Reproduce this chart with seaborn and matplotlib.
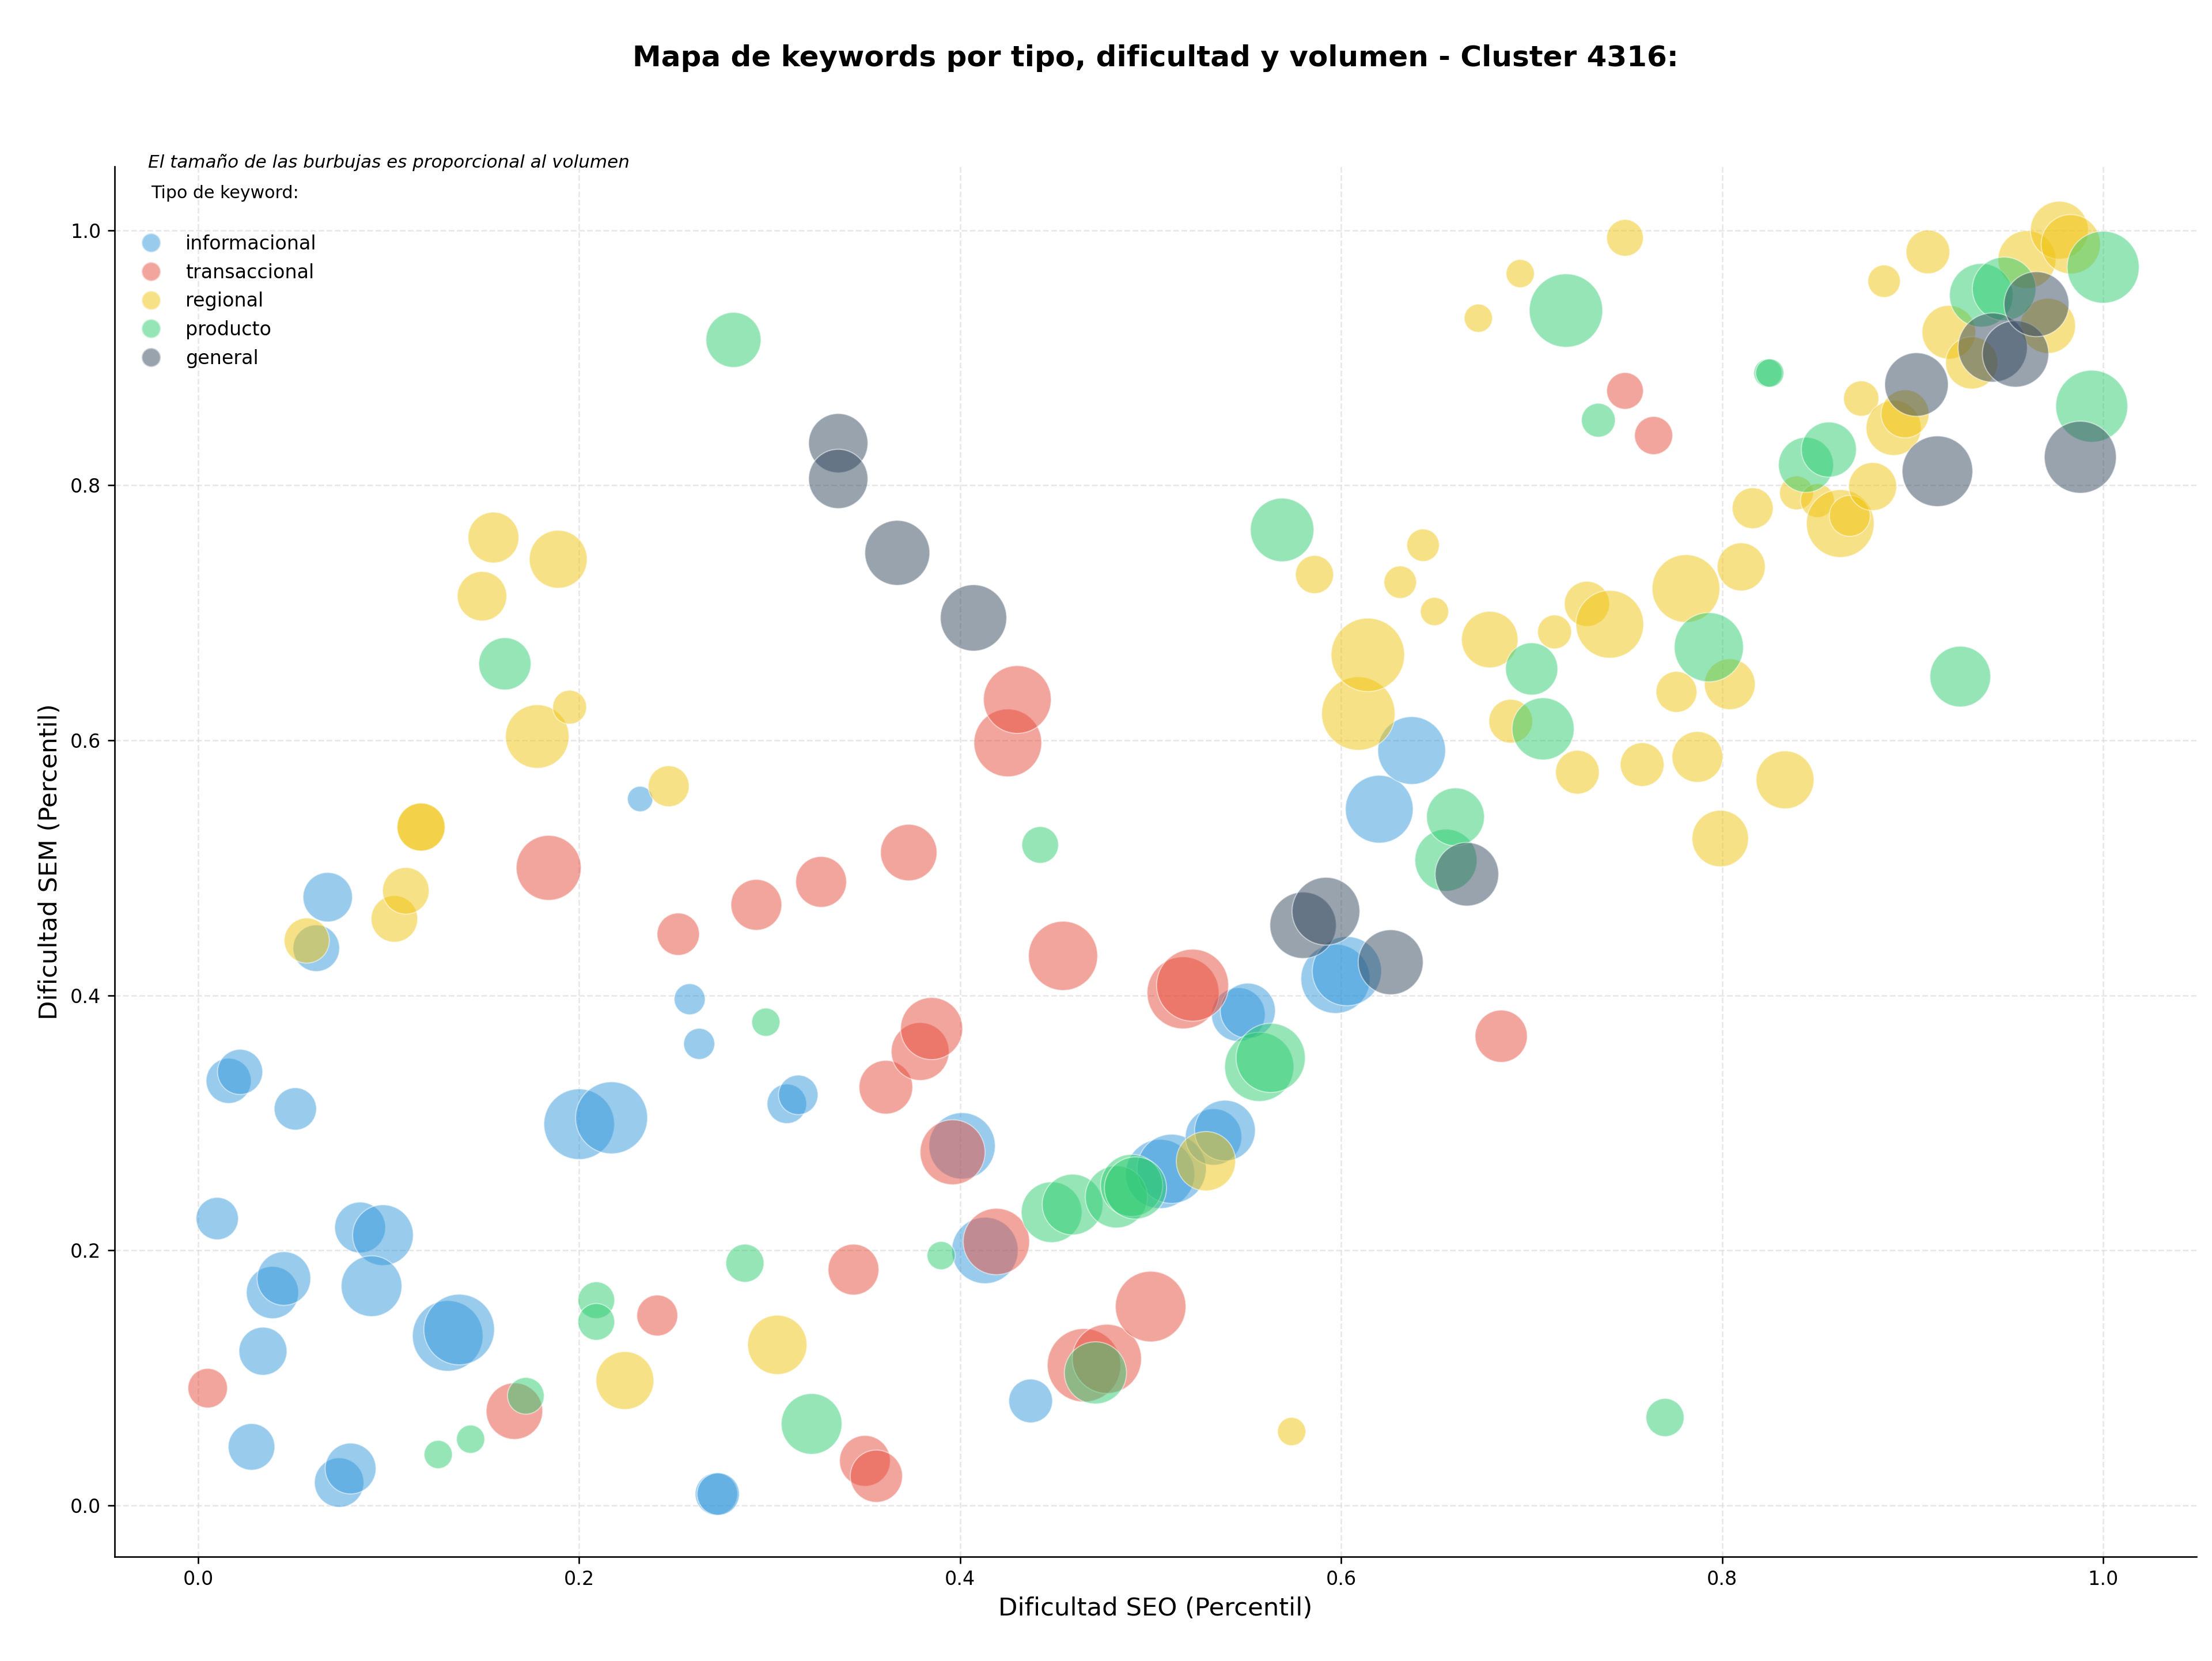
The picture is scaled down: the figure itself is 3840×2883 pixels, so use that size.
import pandas as pd
import matplotlib
matplotlib.use("Agg")
import matplotlib.pyplot as plt
from matplotlib.lines import Line2D
import seaborn as sns

tipos = ["informacional", "transaccional", "regional", "producto", "general"]
colores = {
    "informacional": "#3498db",
    "transaccional": "#e74c3c",
    "regional": "#f1c40f",
    "producto": "#2ecc71",
    "general": "#34495e",
}

# informacional
info_seo = [0.010, 0.016, 0.022, 0.028, 0.034, 0.039, 0.045, 0.051, 0.062, 0.068,
            0.074, 0.080, 0.085, 0.097, 0.091, 0.131, 0.137, 0.200, 0.217, 0.232,
            0.258, 0.263, 0.272, 0.273, 0.309, 0.315, 0.401, 0.413, 0.437, 0.505,
            0.511, 0.533, 0.539, 0.546, 0.551, 0.597, 0.603, 0.620, 0.637]
info_sem = [0.225, 0.333, 0.340, 0.046, 0.121, 0.167, 0.178, 0.311, 0.437, 0.477,
            0.018, 0.029, 0.218, 0.212, 0.172, 0.133, 0.138, 0.299, 0.304, 0.554,
            0.397, 0.362, 0.009, 0.009, 0.315, 0.322, 0.282, 0.200, 0.082, 0.260,
            0.264, 0.289, 0.294, 0.385, 0.388, 0.413, 0.419, 0.546, 0.592]
info_vol = [9000, 10240, 10240, 10890, 11560, 13690, 14440, 9000, 10890, 12250,
            12250, 12960, 12960, 18490, 18490, 25000, 25000, 25000, 26010, 3240,
            4840, 4840, 9000, 9000, 7840, 7840, 22090, 22090, 9610, 24010,
            24010, 16000, 18490, 14440, 15210, 24010, 24010, 23040, 23040]

# transaccional
trans_seo = [0.005, 0.166, 0.184, 0.241, 0.252, 0.293, 0.327, 0.344, 0.350, 0.356,
             0.361, 0.373, 0.379, 0.385, 0.396, 0.419, 0.425, 0.430, 0.454, 0.465,
             0.477, 0.500, 0.517, 0.522, 0.684, 0.749, 0.764]
trans_sem = [0.092, 0.074, 0.500, 0.149, 0.448, 0.471, 0.489, 0.185, 0.035, 0.023,
             0.328, 0.512, 0.356, 0.374, 0.277, 0.207, 0.598, 0.632, 0.431, 0.110,
             0.115, 0.156, 0.402, 0.408, 0.368, 0.874, 0.839]
trans_vol = [7840, 16000, 21160, 8410, 9000, 12960, 12960, 12960, 12960, 13690,
             14440, 16000, 16810, 19360, 21160, 22090, 23040, 23040, 24010, 27040,
             24010, 25000, 26010, 26010, 13690, 6760, 7290]

# regional
reg_seo = [0.057, 0.103, 0.109, 0.117, 0.117, 0.149, 0.155, 0.178, 0.189, 0.195,
           0.224, 0.247, 0.304, 0.529, 0.574, 0.586, 0.609, 0.614, 0.631, 0.643,
           0.649, 0.672, 0.678, 0.689, 0.694, 0.712, 0.724, 0.729, 0.741, 0.749,
           0.758, 0.776, 0.781, 0.787, 0.799, 0.804, 0.810, 0.816, 0.833, 0.839,
           0.850, 0.862, 0.867, 0.873, 0.879, 0.885, 0.890, 0.896, 0.908, 0.919,
           0.931, 0.960, 0.971, 0.977, 0.983]
reg_sem = [0.443, 0.460, 0.482, 0.532, 0.532, 0.713, 0.759, 0.603, 0.742, 0.626,
           0.098, 0.564, 0.126, 0.270, 0.058, 0.730, 0.621, 0.667, 0.724, 0.753,
           0.701, 0.931, 0.679, 0.615, 0.966, 0.685, 0.575, 0.707, 0.691, 0.994,
           0.581, 0.638, 0.719, 0.587, 0.523, 0.644, 0.736, 0.782, 0.569, 0.794,
           0.788, 0.770, 0.776, 0.868, 0.799, 0.960, 0.845, 0.856, 0.983, 0.920,
           0.896, 0.977, 0.925, 1.000, 0.989]
reg_vol = [10240, 10890, 10890, 11560, 11560, 12250, 12960, 20250, 16810, 5760,
           16810, 8410, 17640, 17640, 4000, 7290, 27040, 27040, 5290, 5290,
           4000, 4000, 16000, 9610, 4000, 5760, 9610, 10240, 23040, 6760,
           9610, 8410, 23040, 12960, 16000, 12960, 11560, 8410, 16810, 5760,
           5760, 23040, 8410, 6250, 11560, 5290, 15210, 11560, 9610, 14440,
           13690, 16810, 15210, 16810, 17640]

# producto
prod_seo = [0.126, 0.143, 0.161, 0.172, 0.209, 0.209, 0.281, 0.287, 0.298, 0.322,
            0.390, 0.442, 0.448, 0.459, 0.471, 0.482, 0.490, 0.492, 0.557, 0.563,
            0.569, 0.655, 0.660, 0.700, 0.706, 0.718, 0.735, 0.770, 0.793, 0.824,
            0.825, 0.844, 0.856, 0.925, 0.936, 0.948, 0.994, 1.000]
prod_sem = [0.040, 0.052, 0.660, 0.086, 0.161, 0.144, 0.914, 0.190, 0.379, 0.064,
            0.196, 0.518, 0.230, 0.236, 0.104, 0.242, 0.251, 0.249, 0.344, 0.351,
            0.765, 0.506, 0.540, 0.656, 0.609, 0.937, 0.851, 0.069, 0.673, 0.888,
            0.888, 0.816, 0.828, 0.650, 0.949, 0.954, 0.862, 0.971]
prod_vol = [4000, 4000, 13690, 6760, 6760, 6760, 15210, 7290, 4000, 18490,
            4000, 6760, 18490, 18490, 19360, 19360, 19360, 19360, 24010, 24010,
            20250, 19360, 16810, 13690, 19360, 27040, 5760, 7290, 24010, 4000,
            4000, 15210, 15210, 18490, 20250, 20250, 26010, 26010]

# general
gen_seo = [0.336, 0.336, 0.367, 0.407, 0.580, 0.592, 0.626, 0.666, 0.902, 0.913,
           0.942, 0.954, 0.965, 0.988]
gen_sem = [0.833, 0.805, 0.747, 0.696, 0.455, 0.466, 0.426, 0.495, 0.879, 0.811,
           0.908, 0.903, 0.942, 0.822]
gen_vol = [17640, 17640, 21160, 22090, 22090, 23040, 21160, 20250, 20250, 25000,
           24010, 22090, 21160, 26010]

partes = []
for tipo, seo, sem, vol in [
    ("informacional", info_seo, info_sem, info_vol),
    ("transaccional", trans_seo, trans_sem, trans_vol),
    ("regional", reg_seo, reg_sem, reg_vol),
    ("producto", prod_seo, prod_sem, prod_vol),
    ("general", gen_seo, gen_sem, gen_vol),
]:
    partes.append(pd.DataFrame({"seo": seo, "sem": sem, "volumen": vol, "tipo": tipo}))
df = pd.concat(partes, ignore_index=True)

fig = plt.figure(figsize=(16, 12.0125), dpi=240)
ax = fig.add_axes([0.0517, 0.0629, 0.9413, 0.8369])

sns.scatterplot(data=df, x="seo", y="sem", hue="tipo", hue_order=tipos,
                palette=colores, size="volumen", sizes=(0, 1620),
                size_norm=(0, 30000), alpha=0.5, edgecolor="white",
                linewidth=0.6, legend=False, ax=ax)

ax.set_xlim(-0.044, 1.049)
ax.set_ylim(-0.04, 1.05)
ax.set_xticks([0.0, 0.2, 0.4, 0.6, 0.8, 1.0])
ax.set_yticks([0.0, 0.2, 0.4, 0.6, 0.8, 1.0])
ax.tick_params(labelsize=10)
ax.grid(True, linestyle="--", color="#d9d9d9", alpha=0.6, linewidth=0.8)
ax.set_axisbelow(True)
sns.despine(ax=ax)

ax.set_xlabel("Dificultad SEO (Percentil)", fontsize=13)
ax.set_ylabel("Dificultad SEM (Percentil)", fontsize=13)
ax.text(0.5, 1.078, "Mapa de keywords por tipo, dificultad y volumen - Cluster 4316:",
        transform=ax.transAxes, ha="center", va="center", fontsize=15,
        fontweight="bold")
ax.text(0.0163, 1.003, "El tamaño de las burbujas es proporcional al volumen",
        transform=ax.transAxes, ha="left", va="center", fontsize=9.3,
        style="italic")
ax.text(0.0176, 0.9807, "Tipo de keyword:", transform=ax.transAxes,
        ha="left", va="center", fontsize=9)

handles = [Line2D([0], [0], marker="o", linestyle="", markersize=10,
                  markerfacecolor=colores[t], markeredgecolor="white",
                  alpha=0.5, label=t) for t in tipos]
ax.legend(handles=handles, loc="upper left", bbox_to_anchor=(0.0, 0.9635),
          frameon=False, fontsize=10, labelspacing=0.5)

fig.savefig("out.png", dpi=240)
